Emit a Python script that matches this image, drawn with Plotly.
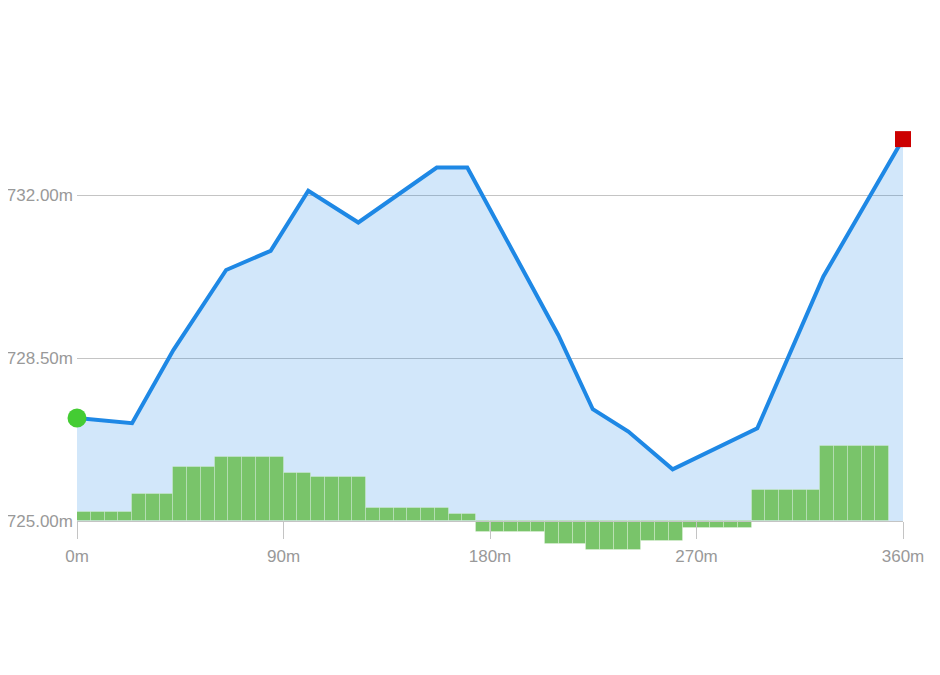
import plotly.graph_objects as go

# Elevation profile (distance in m, elevation in m)
dist_m = [0, 24, 42, 65, 84.4, 100.8, 122.6, 156.8, 170.1, 209.8, 224.8, 240.3, 259.6, 296.5, 325.3, 360]
elev_m = [727.21, 727.10, 728.67, 730.39, 730.80, 732.09, 731.41, 732.59, 732.59,
          728.99, 727.40, 726.92, 726.11, 726.99, 730.25, 733.20]

# Elevation change bars, one per 6 m step (drawn from the 725 m baseline)
bar_step_m = 6
bar_values = [0.20, 0.20, 0.20, 0.20,
              0.57, 0.57, 0.57,
              1.17, 1.17, 1.17,
              1.37, 1.37, 1.37, 1.37, 1.37,
              1.04, 1.04,
              0.94, 0.94, 0.94, 0.94,
              0.27, 0.27, 0.27, 0.27, 0.27, 0.27,
              0.14, 0.14,
              -0.23, -0.23, -0.23, -0.23, -0.23,
              -0.50, -0.50, -0.50,
              -0.62, -0.62, -0.62, -0.62,
              -0.43, -0.43, -0.43,
              -0.16, -0.16, -0.16, -0.16, -0.16,
              0.67, 0.67, 0.67, 0.67, 0.67,
              1.61, 1.61, 1.61, 1.61, 1.61]
bar_x = [i * bar_step_m + bar_step_m / 2 for i in range(len(bar_values))]

base_elev = 725.0
y_ticks = [725.0, 728.5, 732.0]
y_ticktext = [f"{v:.2f}m" for v in y_ticks]
x_ticks = [0, 90, 180, 270, 360]
x_ticktext = [f"{v}m" for v in x_ticks]

y_range = [723.733, 734.04]
x_range = [0, 360]

fig = go.Figure()

# baseline for fill
fig.add_trace(go.Scatter(x=[dist_m[0], dist_m[-1]], y=[base_elev, base_elev], mode="lines",
                         line=dict(width=0, color="rgba(0,0,0,0)"), hoverinfo="skip",
                         showlegend=False, xaxis="x", yaxis="y"))
fig.add_trace(go.Scatter(x=dist_m, y=elev_m, mode="lines", line=dict(width=0),
                         fill="tonexty", fillcolor="rgba(30,136,229,0.2)",
                         showlegend=False, xaxis="x", yaxis="y"))

# bars
fig.add_trace(go.Bar(x=bar_x, y=bar_values, base=base_elev, width=bar_step_m,
                     marker=dict(color="#79c46a", line=dict(color="rgba(255,255,255,0.25)", width=1)),
                     showlegend=False, xaxis="x", yaxis="y2"))

# line + markers
fig.add_trace(go.Scatter(x=dist_m, y=elev_m, mode="lines",
                         line=dict(color="#1e88e5", width=4), cliponaxis=False,
                         showlegend=False, xaxis="x", yaxis="y3"))
fig.add_trace(go.Scatter(x=[dist_m[0]], y=[elev_m[0]], mode="markers",
                         marker=dict(color="#44cc33", size=19, symbol="circle"), cliponaxis=False,
                         showlegend=False, xaxis="x", yaxis="y3"))
fig.add_trace(go.Scatter(x=[dist_m[-1]], y=[elev_m[-1]], mode="markers",
                         marker=dict(color="#cc0000", size=16, symbol="square"), cliponaxis=False,
                         showlegend=False, xaxis="x", yaxis="y3"))

pos = (base_elev - y_range[0]) / (y_range[1] - y_range[0])
font = dict(family="Liberation Sans, Arial, sans-serif", size=17, color="#999999")

fig.update_layout(
    width=940, height=675,
    margin=dict(l=69, r=45, t=92, b=103),
    plot_bgcolor="white", paper_bgcolor="white",
    showlegend=False,
    bargap=0,
    xaxis=dict(range=x_range, tickvals=x_ticks, ticktext=x_ticktext,
               anchor="free", position=pos, showgrid=False, zeroline=False,
               showline=True, linecolor="#c4c4c4", linewidth=1, automargin=False,
               ticks="outside", ticklen=17, tickcolor="#c4c4c4", tickwidth=1,
               ticklabelstandoff=3, tickfont=font),
    yaxis=dict(range=y_range, tickvals=y_ticks, ticktext=y_ticktext, automargin=False,
               showgrid=True, gridcolor="#c4c4c4", gridwidth=1, zeroline=False,
               showline=False, ticks="", ticklabelstandoff=3, tickfont=font),
    yaxis2=dict(range=y_range, overlaying="y", visible=False, showgrid=False),
    yaxis3=dict(range=y_range, overlaying="y", visible=False, showgrid=False),
)

fig.write_html("out.html")
